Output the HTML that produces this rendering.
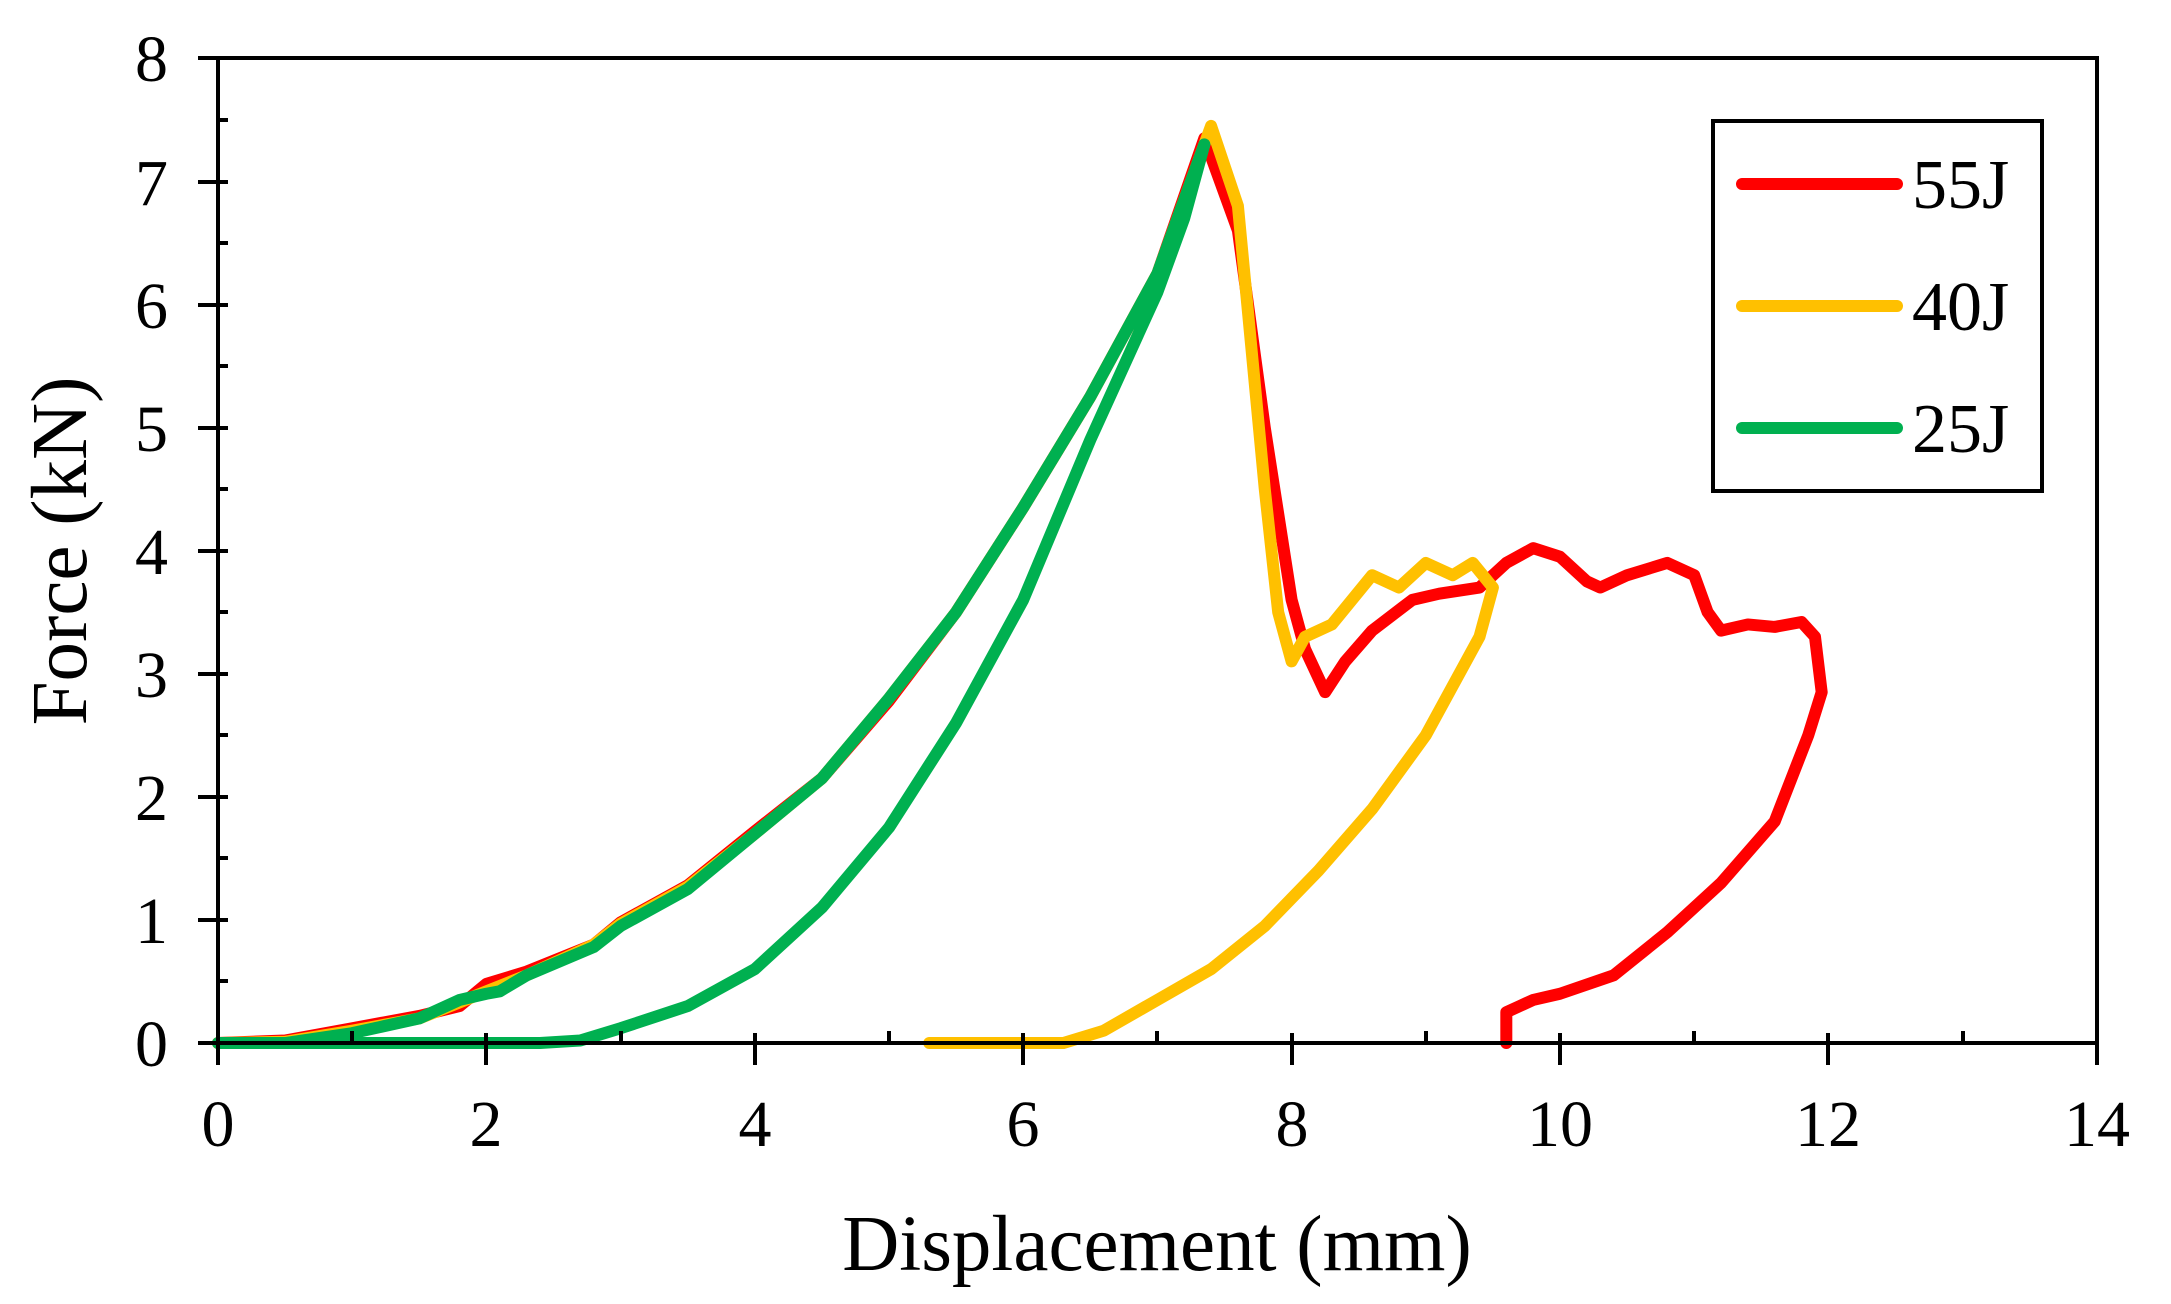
<!DOCTYPE html>
<html><head><meta charset="utf-8"><style>body{margin:0;background:#fff}svg{display:block}</style></head>
<body>
<svg width="2171" height="1304" viewBox="0 0 2171 1304" xmlns="http://www.w3.org/2000/svg" font-family="'Liberation Serif',serif">
<rect width="2171" height="1304" fill="#fff"/>
<g transform="translate(218,1043) scale(134.2,-123.1)" fill="none" stroke-linejoin="round" stroke-linecap="round">
<polyline vector-effect="non-scaling-stroke" stroke="#ff0000" stroke-width="12" points="0,0 0.5,0.02 1,0.12 1.5,0.22 1.8,0.3 2,0.48 2.3,0.58 2.8,0.8 3,0.98 3.5,1.28 4,1.72 4.5,2.15 5,2.78 5.5,3.5 6,4.35 6.5,5.25 7,6.25 7.35,7.35 7.6,6.6 7.8,5 8,3.6 8.1,3.2 8.25,2.85 8.4,3.1 8.6,3.35 8.9,3.6 9.1,3.65 9.4,3.7 9.6,3.9 9.8,4.02 10,3.95 10.2,3.75 10.3,3.7 10.5,3.8 10.8,3.9 11,3.8 11.1,3.5 11.2,3.35 11.4,3.4 11.6,3.38 11.8,3.42 11.9,3.3 11.95,2.85 11.85,2.5 11.6,1.8 11.2,1.3 10.8,0.9 10.4,0.55 10,0.4 9.8,0.35 9.7,0.3 9.6,0.25 9.6,0"/>
<polyline vector-effect="non-scaling-stroke" stroke="#ffc000" stroke-width="12" points="0,0 0.5,0.01 1,0.1 1.5,0.2 1.8,0.33 2,0.42 2.3,0.55 2.8,0.8 3,0.97 3.5,1.27 4,1.7 4.5,2.15 5,2.8 5.5,3.5 6,4.35 6.5,5.25 7,6.25 7.4,7.45 7.6,6.8 7.8,4.5 7.9,3.5 8,3.1 8.1,3.3 8.3,3.4 8.6,3.8 8.8,3.7 9,3.9 9.2,3.8 9.35,3.9 9.5,3.7 9.4,3.3 9.2,2.9 9,2.5 8.6,1.9 8.2,1.4 7.8,0.95 7.4,0.6 7,0.35 6.6,0.1 6.3,0 5.3,0"/>
<polyline vector-effect="non-scaling-stroke" stroke="#00b050" stroke-width="12" points="0,0 0.5,0 1,0.08 1.5,0.2 1.8,0.35 2,0.4 2.1,0.42 2.3,0.55 2.8,0.78 3,0.95 3.5,1.25 4,1.7 4.5,2.15 5,2.8 5.5,3.5 6,4.35 6.5,5.25 7,6.25 7.35,7.3 7.2,6.7 7,6.1 6.5,4.9 6,3.6 5.5,2.6 5,1.75 4.5,1.1 4,0.6 3.5,0.3 3,0.12 2.7,0.02 2.4,0 0,0"/>
</g>
<g stroke="#000" stroke-width="4" fill="none">
<rect x="218" y="58" width="1879" height="985"/>
<path d="M198,1043h30M198,920h30M198,797h30M198,674h30M198,551h30M198,428h30M198,305h30M198,182h30M198,58h30
M218,981h10M218,858h10M218,735h10M218,612h10M218,489h10M218,366h10M218,243h10M218,120h10
M218,1033v32M486,1033v32M755,1033v32M1023,1033v32M1292,1033v32M1560,1033v32M1828,1033v32M2097,1033v32
M352,1043v-12M621,1043v-12M889,1043v-12M1157,1043v-12M1426,1043v-12M1694,1043v-12M1963,1043v-12"/>
</g>
<g font-size="66" text-anchor="end" fill="#000">
<text x="168" y="1066">0</text><text x="168" y="943">1</text><text x="168" y="820">2</text><text x="168" y="697">3</text><text x="168" y="574">4</text><text x="168" y="451">5</text><text x="168" y="328">6</text><text x="168" y="205">7</text><text x="168" y="81">8</text>
</g>
<g font-size="66" text-anchor="middle" fill="#000">
<text x="218" y="1146">0</text><text x="486" y="1146">2</text><text x="755" y="1146">4</text><text x="1023" y="1146">6</text><text x="1292" y="1146">8</text><text x="1560" y="1146">10</text><text x="1828" y="1146">12</text><text x="2097" y="1146">14</text>
<text x="1157" y="1270" font-size="79">Displacement (mm)</text>
<text transform="translate(86,551) rotate(-90)" font-size="79">Force (kN)</text>
</g>
<rect x="1713" y="121" width="329" height="370" fill="#fff" stroke="#000" stroke-width="4"/>
<g stroke-width="12" stroke-linecap="round">
<line x1="1742" y1="184" x2="1897" y2="184" stroke="#ff0000"/>
<line x1="1742" y1="306" x2="1897" y2="306" stroke="#ffc000"/>
<line x1="1742" y1="428" x2="1897" y2="428" stroke="#00b050"/>
</g>
<g font-size="70" fill="#000">
<text x="1912" y="208">55J</text><text x="1912" y="330">40J</text><text x="1912" y="452">25J</text>
</g>
</svg>
</body></html>
